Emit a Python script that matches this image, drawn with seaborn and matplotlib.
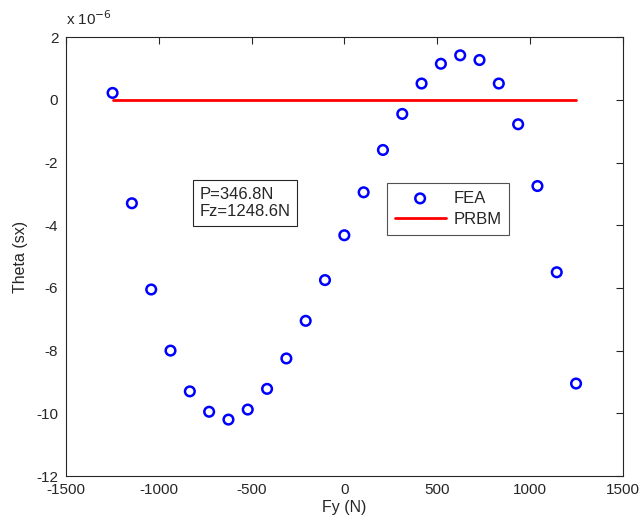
import matplotlib
matplotlib.use("Agg")
import matplotlib.pyplot as plt
import seaborn as sns
import pandas as pd

# Data (theta values in units of 1e-6)
fy_fea = [-1248.6, -1144.6, -1040.5, -936.5, -832.4, -728.4, -624.3, -520.3, -416.2,
          -312.2, -208.1, -104.1, 0.0, 104.1, 208.1, 312.2, 416.2, 520.3, 624.3,
          728.4, 832.4, 936.5, 1040.5, 1144.6, 1248.6]
theta_fea = [0.22, -3.3, -6.05, -8.0, -9.3, -9.95, -10.2, -9.88, -9.22,
             -8.25, -7.05, -5.75, -4.32, -2.95, -1.6, -0.45, 0.52, 1.15, 1.42,
             1.27, 0.52, -0.78, -2.75, -5.5, -9.05]
fy_prbm = [-1248.6, 1248.6]
theta_prbm = [0.0, 0.0]

xticks = [-1500, -1000, -500, 0, 500, 1000, 1500]
yticks = [-12, -10, -8, -6, -4, -2, 0, 2]

sns.set_style("white")
plt.rcParams['font.family'] = ['Liberation Sans', 'DejaVu Sans']

df_fea = pd.DataFrame({"Fy": fy_fea, "Theta": theta_fea})
df_prbm = pd.DataFrame({"Fy": fy_prbm, "Theta": theta_prbm})

fig = plt.figure(figsize=(6.4, 5.25), dpi=100)
ax = fig.add_axes([0.103, 0.0933, 0.870, 0.836])

sns.scatterplot(data=df_fea, x="Fy", y="Theta", ax=ax, marker="o", s=48,
                facecolor="none", edgecolor="#0000ff", linewidth=1.8, label="FEA",
                zorder=3)
sns.lineplot(data=df_prbm, x="Fy", y="Theta", ax=ax, color="#ff0000", linewidth=2.0,
             label="PRBM", zorder=2)

ax.set_xlim(-1500, 1500)
ax.set_ylim(-12, 2)
ax.set_xticks(xticks)
ax.set_yticks(yticks)
ax.set_xticklabels([str(t) for t in xticks])
ax.set_yticklabels([str(t) for t in yticks])
ax.tick_params(direction="in", length=5, width=0.8, top=True, right=True,
               labelsize=11, colors="#262626", labelcolor="#262626")
ax.tick_params(axis="x", pad=5)
ax.tick_params(axis="y", pad=5.5)
for sp in ax.spines.values():
    sp.set_visible(True)
    sp.set_color("#262626")
    sp.set_linewidth(0.8)

ax.set_xlabel("Fy (N)", fontsize=11.5, color="#262626", labelpad=2)
ax.set_ylabel("Theta (sx)", fontsize=11.5, color="#262626", labelpad=6)

ax.text(0.0, 1.02, "x 10$^{-6}$", transform=ax.transAxes, fontsize=11,
        color="#262626", ha="left", va="bottom")

ax.text(0.2396, 0.622, "P=346.8N\nFz=1248.6N", transform=ax.transAxes, fontsize=12,
        color="#262626", ha="left", va="center", linespacing=1.2,
        bbox=dict(boxstyle="square,pad=0.4", facecolor="white", edgecolor="#262626",
                  linewidth=0.8))

leg = ax.legend(loc="upper left", bbox_to_anchor=(0.577, 0.667), frameon=True,
                fancybox=False, edgecolor="#262626", fontsize=12,
                handlelength=3.05, handletextpad=0.5, borderpad=0.45,
                labelspacing=0.38, borderaxespad=0)
leg.get_frame().set_linewidth(0.8)

fig.savefig("out.png", dpi=100)
